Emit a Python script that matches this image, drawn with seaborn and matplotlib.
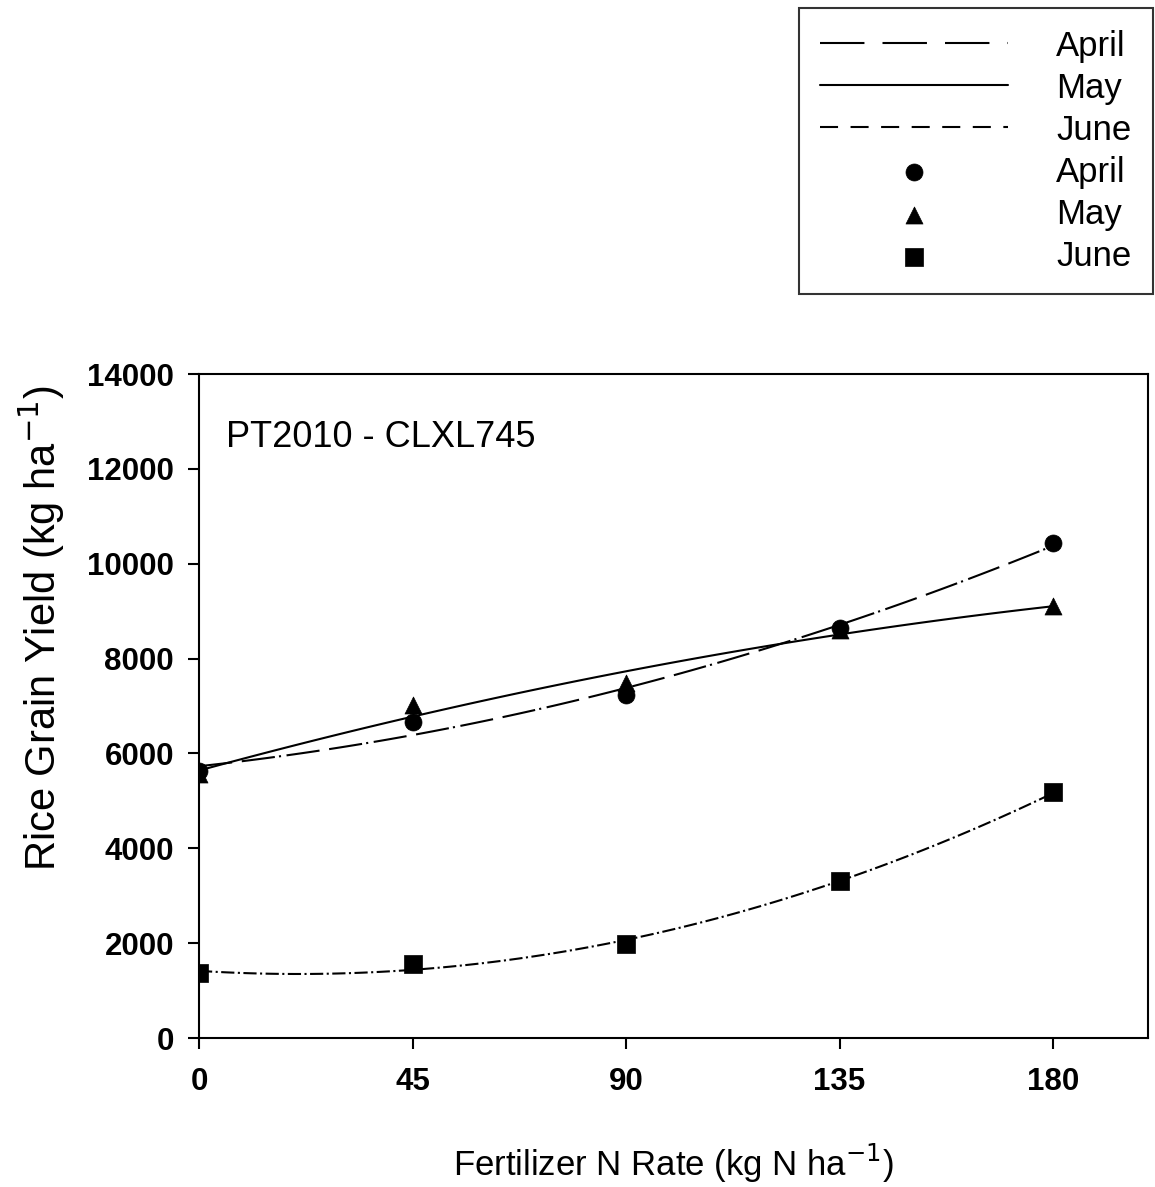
import numpy as np
import pandas as pd
import matplotlib
matplotlib.use("Agg")
import matplotlib.pyplot as plt
import seaborn as sns

# fertilizer N rates (kg N/ha)
n_rate = [0, 45, 90, 135, 180]

# grain yield (kg/ha) by planting month
april = [5620, 6660, 7230, 8640, 10440]
may = [5560, 7020, 7480, 8600, 9100]
june = [1370, 1560, 1980, 3310, 5180]

months = ["April", "May", "June"]
markers = {"April": "o", "May": "^", "June": "s"}

df = pd.concat([
    pd.DataFrame({"rate": n_rate, "yield": april, "month": "April"}),
    pd.DataFrame({"rate": n_rate, "yield": may, "month": "May"}),
    pd.DataFrame({"rate": n_rate, "yield": june, "month": "June"}),
], ignore_index=True)

sns.set_style("ticks")
plt.rcParams["font.family"] = ["Liberation Sans", "DejaVu Sans"]
plt.rcParams["lines.scale_dashes"] = False
for k in ["text.color", "axes.labelcolor", "xtick.color", "ytick.color", "axes.edgecolor"]:
    plt.rcParams[k] = "black"

fig = plt.figure(figsize=(11.55, 11.87), dpi=100)
ax = fig.add_axes([0.1723, 0.1255, 0.8216, 0.5594])

# line styles for the quadratic fits
dash_styles = {
    "April": (0, (24, 7, 24, 3, 1.5, 4)),
    "May": "-",
    "June": (0, (9.5, 2.5, 1.5, 2.5)),
}
# the legend swatches are drawn a bit differently
legend_dashes = {
    "April": (0, (32, 13)),
    "May": "-",
    "June": (0, (13, 9)),
}

# fitted curves (2nd order regression)
for m in months:
    sub = df[df["month"] == m]
    sns.regplot(data=sub, x="rate", y="yield", order=2, ci=None, scatter=False, ax=ax,
                label=m, line_kws={"color": "black", "lw": 1.5, "linestyle": dash_styles[m]})

# observed points
for m in months:
    sub = df[df["month"] == m]
    sns.scatterplot(data=sub, x="rate", y="yield", marker=markers[m], color="black",
                    s=150, edgecolor="black", linewidth=0.5, ax=ax, label=m, legend=False, zorder=5)

ax.set_xlim(0, 200)
ax.set_ylim(0, 14000)
ax.set_xticks(n_rate)
ax.set_yticks(range(0, 14001, 2000))
ax.tick_params(axis="both", direction="out", length=8, width=1.5, labelsize=22.5,
               top=False, right=False)
ax.tick_params(axis="x", pad=13)
ax.tick_params(axis="y", pad=10)
for lab in ax.get_xticklabels() + ax.get_yticklabels():
    lab.set_fontweight("bold")
for sp in ax.spines.values():
    sp.set_visible(True)
    sp.set_linewidth(1.5)
    sp.set_color("black")

ax.set_xlabel("Fertilizer N Rate (kg N ha$^{-1}$)", fontsize=25, labelpad=32)
ax.set_ylabel("Rice Grain Yield (kg ha$^{-1}$)", fontsize=30)
ax.yaxis.set_label_coords(-0.139, 0.617)
ax.text(0.0285, 0.905, "PT2010 - CLXL745", transform=ax.transAxes, fontsize=26,
        ha="left", va="center")

handles, labels = ax.get_legend_handles_labels()
leg = fig.legend(handles, labels, loc="upper right", bbox_to_anchor=(1153 / 1155, 1 - 8 / 1187),
                 fontsize=25, frameon=True, fancybox=False, edgecolor="black",
                 handlelength=5.4, handletextpad=1.4, labelspacing=0.26, borderpad=0.62,
                 borderaxespad=0)
leg.get_frame().set_linewidth(1.5)
for line, m in zip(leg.get_lines(), months):
    line.set_linestyle(legend_dashes[m])

fig.savefig("out.png", dpi=100)
plt.close(fig)
